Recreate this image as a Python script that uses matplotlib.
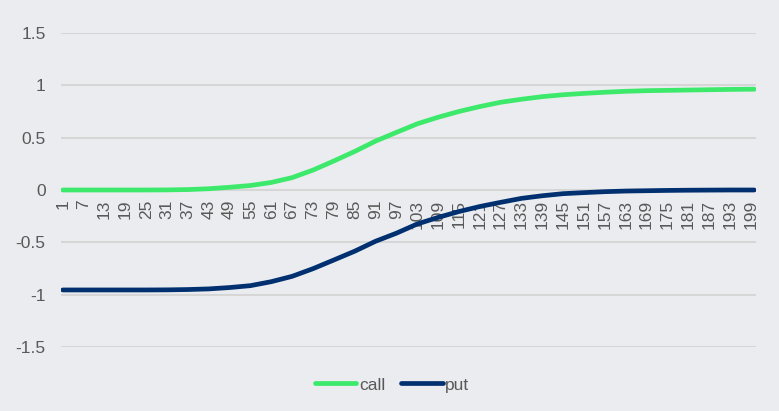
import numpy as np
import matplotlib.pyplot as plt

# values read at every 6th index (the labelled categories), plus the last one
idx = [1, 7, 13, 19, 25, 31, 37, 43, 49, 55, 61, 67, 73, 79, 85, 91, 97,
       103, 109, 115, 121, 127, 133, 139, 145, 151, 157, 163, 169, 175,
       181, 187, 193, 199, 200]
call = [0.000, 0.000, 0.000, 0.000, 0.000, 0.001, 0.004, 0.012, 0.026,
        0.043, 0.072, 0.118, 0.190, 0.277, 0.368, 0.467, 0.550, 0.632,
        0.695, 0.750, 0.797, 0.838, 0.867, 0.892, 0.910, 0.923, 0.934,
        0.943, 0.949, 0.952, 0.955, 0.958, 0.961, 0.963, 0.963]
put = [-0.955, -0.955, -0.955, -0.955, -0.955, -0.954, -0.951, -0.945,
       -0.932, -0.914, -0.876, -0.825, -0.752, -0.669, -0.585, -0.490,
       -0.413, -0.325, -0.262, -0.206, -0.158, -0.118, -0.080, -0.055,
       -0.035, -0.025, -0.016, -0.010, -0.007, -0.004, -0.002, -0.001,
       0.000, 0.000, 0.000]
n_cat = 200
tick_pos = list(range(1, n_cat + 1, 6))
y_ticks = [-1.5, -1, -0.5, 0, 0.5, 1, 1.5]
y_labels = ['-1.5', '-1', '-0.5', '0', '0.5', '1', '1.5']

bg = '#EBECF0'
txt = '#595959'
plt.rcParams['font.family'] = ['Liberation Sans', 'DejaVu Sans']

fig = plt.figure(figsize=(7.79, 4.11), dpi=100, facecolor=bg)
ax = fig.add_axes([61 / 779, 64 / 411, 695 / 779, 314 / 411], facecolor=bg)

ax.plot(idx, call, color='#3CE96A', lw=3.4, solid_capstyle='round', label='call', zorder=3)
ax.plot(idx, put, color='#003070', lw=3.4, solid_capstyle='round', label='put', zorder=3)

ax.set_xlim(0.5, n_cat + 0.5)
ax.set_ylim(-1.5, 1.5)
ax.set_yticks(y_ticks)
ax.set_yticklabels(y_labels)
ax.yaxis.grid(True, color='#D6D6D6', lw=1.5)
ax.set_axisbelow(True)
for s in ax.spines.values():
    s.set_visible(False)
ax.spines['bottom'].set_position(('data', 0))

ax.set_xticks(tick_pos)
ax.set_xticklabels([str(t) for t in tick_pos], rotation=90)
ax.tick_params(axis='x', length=0, pad=7, labelsize=12.5, labelcolor=txt)
ax.tick_params(axis='y', length=0, pad=11, labelsize=12.5, labelcolor=txt)

fig.legend(loc='center', bbox_to_anchor=(392 / 779, 1 - 385 / 411), ncol=2,
           frameon=False, handlelength=2.4, handletextpad=0.15,
           columnspacing=0.9, fontsize=12.5, labelcolor=txt)

plt.savefig('out.png', dpi=100, facecolor=bg)
plt.close()
